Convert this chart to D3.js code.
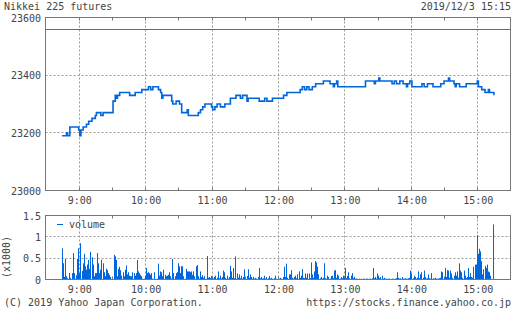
<!DOCTYPE html>
<html>
<head>
<meta charset="utf-8">
<script src="https://cdn.jsdelivr.net/npm/d3@7"></script>
<style>
  body { margin: 0; background: #fff; }
  text { font-family: "DejaVu Sans Mono", monospace; font-size: 10px; fill: #444; }
  .grid { stroke: #999; stroke-width: 1; stroke-dasharray: 2,2; }
  .frame { fill: none; stroke: #777; stroke-width: 1; }
  .tick { stroke: #777; stroke-width: 1; }
  .prev { stroke: #f03232; stroke-width: 1.2; }
</style>
</head>
<body>
<svg id="chart" width="512" height="310"></svg>
<script>
// price (step line), minute times
var priceTimes = ["8:45","8:49","8:50","8:52","9:00","9:01","9:02","9:04","9:07","9:09","9:12","9:15","9:16","9:20","9:22",
  "9:31","9:33","9:34","9:35","9:37","9:46","9:51","9:57","10:03","10:05","10:07","10:12","10:14","10:15","10:16",
  "10:24","10:25","10:28","10:31","10:33","10:38","10:39","10:48","10:50","10:52","10:54","11:00","11:01","11:03","11:05",
  "11:08","11:12","11:17","11:22","11:26","11:28","11:32","11:33","11:43","11:48","11:50","11:55","12:05","12:08","12:20",
  "12:22","12:24","12:26","12:28","12:31","12:34","12:41","12:47","12:50","12:51","12:53","12:54","13:19","13:27","13:28",
  "13:31","13:32","13:43","13:45","13:47","13:50","13:53","13:56","13:57","13:59","14:01","14:10","14:12","14:15","14:20",
  "14:27","14:30","14:34","14:35","14:39","14:40","14:41","14:44","14:50","15:00","15:01","15:04","15:07","15:10","15:11","15:15"];
var priceValues = [23190,23200,23190,23220,23210,23190,23210,23220,23230,23240,23250,23260,23270,23260,23270,
  23310,23330,23320,23330,23340,23330,23340,23350,23360,23350,23360,23350,23340,23320,23330,
  23310,23300,23310,23300,23270,23280,23260,23270,23280,23290,23300,23290,23280,23290,23300,
  23290,23300,23320,23330,23320,23330,23310,23320,23310,23320,23310,23320,23330,23340,23350,
  23360,23350,23360,23350,23360,23370,23380,23370,23360,23370,23380,23360,23380,23370,23380,
  23390,23380,23370,23380,23370,23380,23370,23360,23370,23380,23360,23370,23360,23370,23360,
  23370,23380,23390,23380,23370,23360,23370,23360,23370,23380,23360,23350,23340,23350,23340,23330];
var prevClose = 23560;

// volume per minute from 8:45 to 15:15 (contracts)
var volumeStart = "8:45";
var volumeValues = [730,380,60,480,77,30,0,150,40,150,620,150,20,100,480,730,150,850,200,380,
  600,310,230,350,460,250,650,520,350,77,150,150,620,380,150,230,460,380,170,77,
  250,220,150,110,60,0,0,580,540,460,77,250,300,220,90,170,77,230,330,120,
  170,90,77,77,170,150,90,150,460,190,150,110,77,20,20,90,270,150,170,150,
  110,150,20,170,0,0,20,370,90,190,170,77,230,110,77,90,110,170,77,20,
  480,150,77,150,170,380,310,150,310,310,77,20,250,190,190,190,170,190,110,190,
  77,310,340,77,20,190,60,100,40,80,20,550,40,60,30,80,40,20,60,90,
  40,190,30,90,20,60,210,170,40,90,20,60,320,190,40,270,30,540,140,40,
  120,30,90,20,60,240,30,80,240,40,120,60,20,60,20,40,20,60,270,30,
  60,20,30,90,20,60,30,80,20,40,20,10,30,90,20,10,20,40,20,10,
  60,300,60,370,40,120,120,220,40,20,60,90,30,120,190,40,90,240,40,30,
  140,40,140,140,30,400,120,40,190,430,400,300,120,30,60,20,40,380,30,20,
  90,60,20,80,90,30,210,220,40,120,90,20,60,30,90,40,270,30,80,170,
  30,90,150,30,60,20,20,20,10,20,20,10,20,20,10,20,20,10,20,20,
  30,270,30,60,20,140,90,30,60,90,20,40,20,20,10,20,20,10,20,20,
  10,20,30,170,40,20,30,60,20,20,30,20,20,30,40,210,140,30,90,60,
  20,40,190,30,120,170,40,210,60,20,30,120,30,20,150,30,20,40,20,20,
  20,30,40,190,170,40,270,60,220,210,40,210,140,40,90,170,90,190,40,380,
  210,170,40,210,90,30,60,270,60,150,60,40,300,350,350,1040,600,720,660,430,
  120,240,320,270,350,190,170,90,0,0,1290];

var priceTicks = [23000, 23200, 23400, 23600];
var volumeTicks = [0, 500, 1000, 1500];
var volumeTickLabels = ["0", "0.5", "1", "1.5"];
var hourTicks = ["9:00","10:00","11:00","12:00","13:00","14:00","15:00"];

var blue = "#0066dd";

var svg = d3.select("#chart");
var parseTime = d3.timeParse("%Y-%m-%d %H:%M");
function t(s) { return parseTime("2019-12-03 " + s); }

var x = d3.scaleTime()
  .domain([t("8:30"), t("15:30")])
  .range([45.5, 510.5]);

var y = d3.scaleLinear()
  .domain([23000, 23600])
  .range([190.5, 17.5]);

var yv = d3.scaleLinear()
  .domain([0, 1500])
  .range([279.5, 215.5]);

var halfHours = d3.timeMinute.every(30).range(t("8:31"), t("15:30"));
var hours = hourTicks.map(t);

function panel(yScale, top, bottom, gridVals) {
  // vertical grid
  svg.selectAll(null).data(hours).enter().append("line")
    .attr("class", "grid")
    .attr("x1", function(d) { return Math.round(x(d)) + 0.5; })
    .attr("x2", function(d) { return Math.round(x(d)) + 0.5; })
    .attr("y1", top).attr("y2", bottom);
  // horizontal grid
  svg.selectAll(null).data(gridVals).enter().append("line")
    .attr("class", "grid")
    .attr("x1", 45.5).attr("x2", 510.5)
    .attr("y1", function(d) { return Math.round(yScale(d) - 0.5) + 0.5; })
    .attr("y2", function(d) { return Math.round(yScale(d) - 0.5) + 0.5; });
  // half-hour ticks top and bottom
  svg.selectAll(null).data(halfHours).enter().append("line")
    .attr("class", "tick")
    .attr("x1", function(d) { return Math.round(x(d)) + 0.5; })
    .attr("x2", function(d) { return Math.round(x(d)) + 0.5; })
    .attr("y1", top).attr("y2", top + 3);
  svg.selectAll(null).data(halfHours).enter().append("line")
    .attr("class", "tick")
    .attr("x1", function(d) { return Math.round(x(d)) + 0.5; })
    .attr("x2", function(d) { return Math.round(x(d)) + 0.5; })
    .attr("y1", bottom - 3).attr("y2", bottom);
}

panel(y, 17.5, 190.5, [23200, 23400]);
panel(yv, 215.5, 279.5, [500, 1000]);

// previous close
svg.append("line")
  .attr("class", "prev")
  .attr("x1", 46).attr("x2", 510)
  .attr("y1", Math.round(y(prevClose)) + 0.5)
  .attr("y2", Math.round(y(prevClose)) + 0.5);

// price line
var priceData = priceTimes.map(function(d, i) { return {time: t(d), value: priceValues[i]}; });
var line = d3.line()
  .x(function(d) { return x(d.time); })
  .y(function(d) { return y(d.value); })
  .curve(d3.curveStepAfter);

svg.append("path")
  .datum(priceData)
  .attr("d", line)
  .attr("fill", "none")
  .attr("stroke", blue)
  .attr("stroke-width", 1.6);

// volume bars
var vStart = t(volumeStart);
var volumeData = volumeValues.map(function(v, i) { return {time: d3.timeMinute.offset(vStart, i), value: v}; });
svg.selectAll(".vol")
  .data(volumeData)
  .enter().append("rect")
    .attr("class", "vol")
    .attr("x", function(d) { return Math.floor(x(d.time)); })
    .attr("width", 1)
    .attr("y", function(d) { return yv(d.value); })
    .attr("height", function(d) { return yv(0) - yv(d.value); })
    .attr("fill", blue);

// frames
svg.append("rect").attr("class", "frame")
  .attr("x", 45.5).attr("y", 17.5).attr("width", 465).attr("height", 173);
svg.append("rect").attr("class", "frame")
  .attr("x", 45.5).attr("y", 215.5).attr("width", 465).attr("height", 64);

// y labels
svg.selectAll(null).data(priceTicks).enter().append("text")
  .attr("x", 41).attr("y", function(d) { return y(d) + 4; })
  .attr("text-anchor", "end")
  .text(function(d) { return d; });
svg.selectAll(null).data(volumeTicks).enter().append("text")
  .attr("x", 41).attr("y", function(d) { return yv(d) + 4; })
  .attr("text-anchor", "end")
  .text(function(d, i) { return volumeTickLabels[i]; });

// x labels
svg.selectAll(null).data(hours).enter().append("text")
  .attr("x", function(d) { return x(d) + 1; }).attr("y", 204)
  .attr("text-anchor", "middle")
  .text(function(d) { return d3.timeFormat("%-H:%M")(d); });
svg.selectAll(null).data(hours).enter().append("text")
  .attr("x", function(d) { return x(d) + 1; }).attr("y", 293)
  .attr("text-anchor", "middle")
  .text(function(d) { return d3.timeFormat("%-H:%M")(d); });

svg.append("text")
  .attr("transform", "translate(10,257) rotate(-90)")
  .attr("text-anchor", "middle")
  .text("(x1000)");

// legend
svg.append("line")
  .attr("x1", 57).attr("x2", 63).attr("y1", 224.5).attr("y2", 224.5)
  .attr("stroke", blue).attr("stroke-width", 1);
svg.append("text").attr("x", 69).attr("y", 228).text("volume");

// header / footer
svg.append("text").attr("x", 4).attr("y", 10).text("Nikkei 225 futures");
svg.append("text").attr("x", 511).attr("y", 10).attr("text-anchor", "end").text("2019/12/3 15:15");
svg.append("text").attr("x", 4).attr("y", 306).text("(C) 2019 Yahoo Japan Corporation.");
svg.append("text").attr("x", 511).attr("y", 306).attr("text-anchor", "end").text("https://stocks.finance.yahoo.co.jp");
</script>
</body>
</html>
